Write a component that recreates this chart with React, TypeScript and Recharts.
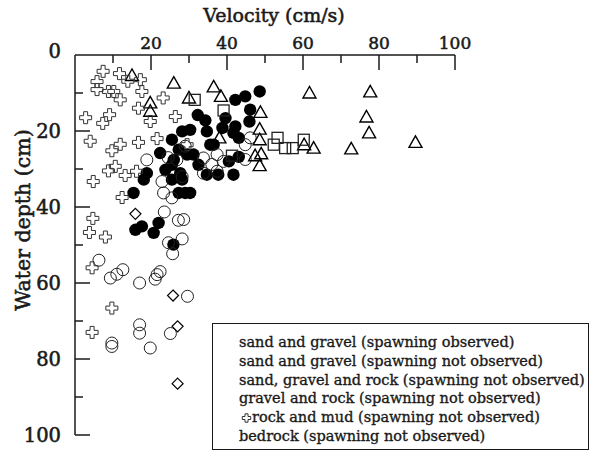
import React from 'react';
import { ScatterChart, Scatter, XAxis, YAxis, Legend } from 'recharts';

type P = [number, number]; // [velocity cm/s, water depth cm]

const velocityTicks = [0, 10, 20, 30, 40, 50, 60, 70, 80, 90, 100];
const depthTicks = [0, 10, 20, 30, 40, 50, 60, 70, 80, 90, 100];

const seriesNames = [
  'sand and gravel (spawning observed)',
  'sand and gravel (spawning not observed)',
  'sand, gravel and rock (spawning not observed)',
  'gravel and rock (spawning not observed)',
  'rock and mud (spawning not observed)',
  'bedrock (spawning not observed)',
];

const sandGravelObserved: P[] = [
  [48.6, 9.6], [44.8, 10.9], [42.2, 11.8], [46.1, 14.4], [39.6, 16.6], [32.3, 15.8],
  [34.3, 17.2], [42.2, 18.8], [45.9, 17.5], [34.7, 20.1], [38.8, 19.2], [43.1, 21.8],
  [41.7, 20.5], [30.3, 19.7], [35.6, 23.6], [31.2, 26.2], [43.1, 26.8], [32.5, 28.9],
  [34.7, 31.5], [41.7, 31.5], [30.3, 36.3], [28.2, 20.1], [25.5, 22.3], [36.5, 23.6],
  [22.4, 25.8], [27.3, 24.9], [29.5, 26.2], [18.9, 31.1], [23.8, 30.2], [27.7, 31.1],
  [37.7, 31.5], [15.4, 36.3], [18.1, 32.8], [25.5, 28.9], [28.2, 32.8], [25.5, 32.8],
  [29.0, 36.3], [27.3, 36.3], [15.9, 46.0], [17.6, 45.1], [20.7, 46.8], [22.0, 44.2],
  [25.9, 49.9], [40.5, 28.0], [26.0, 27.6],
];

const sandGravelNotObserved: P[] = [
  [33.8, 27.1], [37.4, 26.2], [44.8, 23.6], [46.1, 21.8], [37.4, 30.6], [39.1, 28.0],
  [44.8, 27.5], [18.9, 27.6], [26.8, 27.6], [33.8, 31.1], [36.0, 28.8], [22.9, 33.3],
  [23.3, 36.3], [25.5, 37.6], [23.5, 41.3], [27.2, 43.5], [28.6, 43.3], [24.6, 49.4],
  [28.2, 48.4], [25.7, 52.3], [6.3, 54.0], [12.6, 56.5], [11.0, 57.7], [21.1, 59.0],
  [22.4, 57.0], [21.6, 57.8], [28.2, 32.0], [9.3, 58.7], [17.0, 60.0], [29.6, 63.5],
  [17.0, 71.0], [17.0, 73.2], [25.1, 73.3], [9.7, 75.8], [9.7, 76.7], [19.8, 77.1],
  [29.0, 24.0], [24.5, 27.0],
];

const sandGravelRock: P[] = [
  [15.0, 5.4], [26.0, 7.4], [19.8, 12.6], [19.8, 14.8], [30.0, 11.3], [36.5, 8.4],
  [38.4, 10.9], [61.7, 10.0], [48.8, 15.1], [48.6, 19.5], [48.6, 22.3], [49.0, 26.0],
  [47.4, 26.5], [48.6, 29.1], [38.0, 21.8], [60.3, 23.6], [62.8, 24.5], [77.7, 9.7],
  [76.7, 16.3], [77.4, 20.5], [72.7, 24.7], [89.6, 23.0],
];

const gravelRock: P[] = [
  [31.5, 11.8], [39.1, 14.6], [53.3, 21.8], [52.3, 23.6], [55.3, 24.5], [57.3, 24.5],
  [60.2, 22.3], [41.3, 26.5],
];

const rockMud: P[] = [
  [7.4, 4.3], [11.7, 4.9], [5.8, 7.0], [5.8, 9.1], [8.8, 9.6], [10.2, 9.6], [11.9, 11.8],
  [13.9, 6.9], [17.2, 6.5], [17.6, 9.6], [23.2, 11.3], [2.8, 16.5], [7.3, 18.0], [9.1, 15.7],
  [16.7, 14.0], [19.8, 17.5], [26.4, 16.2], [21.6, 22.0], [4.0, 22.7], [11.9, 23.5],
  [16.7, 23.0], [9.7, 25.2], [10.6, 29.3], [8.8, 30.5], [13.2, 31.7], [4.8, 33.3],
  [16.2, 30.6], [12.4, 37.5], [29.5, 23.6], [4.7, 43.0], [3.8, 46.7], [8.0, 47.9],
  [4.5, 56.0], [9.7, 66.6], [4.5, 73.0],
];

const bedrock: P[] = [
  [15.9, 41.8], [25.8, 63.3], [27.0, 71.4], [27.0, 86.5],
];

const toRows = (pts: P[]) => pts.map(([v, d]) => ({ v, d }));

const FONT = '"DejaVu Serif", serif';
const INK = '#1a1a1a';
const W = 595;
const H = 458;
const MARGIN = { top: 25, right: 140, bottom: 23, left: 15 };
const X_AXIS_H = 30;
const Y_AXIS_W = 60;
const PLOT_TOP = MARGIN.top + X_AXIS_H;
const PLOT_LEFT = MARGIN.left + Y_AXIS_W;

const textStyle = { fontFamily: FONT, fill: INK, stroke: INK, strokeWidth: 0.55 };

const XTick = (props: any) => {
  const { x, payload } = props;
  const val = payload.value as number;
  const major = val % 20 === 0;
  return (
    <g>
      {val !== 0 && (
        <line x1={x} x2={x} y1={PLOT_TOP} y2={PLOT_TOP + (major ? 15 : 8)} stroke={INK} strokeWidth={1.5} />
      )}
      {major && val !== 0 && (
        <text x={x} y={PLOT_TOP - 6} textAnchor="middle" fontSize={17} {...textStyle}>
          {val}
        </text>
      )}
    </g>
  );
};

const YTick = (props: any) => {
  const { y, payload } = props;
  const val = payload.value as number;
  const major = val % 20 === 0;
  return (
    <g>
      {val !== 0 && (
        <line x1={PLOT_LEFT} x2={PLOT_LEFT + (major ? 15 : 8)} y1={y} y2={y} stroke={INK} strokeWidth={1.5} />
      )}
      {major && (
        <text x={PLOT_LEFT - 14} y={y + 7 - (val === 0 ? 4.5 : 0)} textAnchor="end" fontSize={19.5} {...textStyle}>
          {val}
        </text>
      )}
    </g>
  );
};

const XTitle = (props: any) => {
  const vb = props.viewBox || {};
  return (
    <text x={vb.x + vb.width / 2 + 9} y={vb.y - 3} textAnchor="middle" fontSize={19} {...textStyle}>
      Velocity (cm/s)
    </text>
  );
};

const YTitle = (props: any) => {
  const vb = props.viewBox || {};
  const cx = vb.x + 15;
  const cy = vb.y + vb.height / 2 - 25;
  return (
    <text x={cx} y={cy} transform={`rotate(-90, ${cx}, ${cy})`} textAnchor="middle" fontSize={20.5} {...textStyle}>
      Water depth (cm)
    </text>
  );
};

const FilledDot = (p: any) => <circle cx={p.cx} cy={p.cy} r={6.2} fill="#000" />;
const OpenDot = (p: any) => <circle cx={p.cx} cy={p.cy} r={6} fill="none" stroke="#222" strokeWidth={1} />;
const Triangle = (p: any) => (
  <polygon
    points={`${p.cx},${p.cy - 6.5} ${p.cx - 6.5},${p.cy + 5} ${p.cx + 6.5},${p.cy + 5}`}
    fill="none" stroke="#000" strokeWidth={1.4}
  />
);
const Square = (p: any) => (
  <rect x={p.cx - 5.5} y={p.cy - 5.5} width={11} height={11} fill="none" stroke="#222" strokeWidth={1.3} />
);
const crossPath = (cx: number, cy: number, s: number, a: number) =>
  `M${cx - a},${cy - s} L${cx + a},${cy - s} L${cx + a},${cy - a} L${cx + s},${cy - a} L${cx + s},${cy + a} L${cx + a},${cy + a} L${cx + a},${cy + s} L${cx - a},${cy + s} L${cx - a},${cy + a} L${cx - s},${cy + a} L${cx - s},${cy - a} L${cx - a},${cy - a} Z`;
const Cross = (p: any) => <path d={crossPath(p.cx, p.cy, 6, 2)} fill="none" stroke="#333" strokeWidth={1} />;
const Diamond = (p: any) => (
  <polygon
    points={`${p.cx},${p.cy - 5.5} ${p.cx + 5.5},${p.cy} ${p.cx},${p.cy + 5.5} ${p.cx - 5.5},${p.cy}`}
    fill="none" stroke="#000" strokeWidth={1.2}
  />
);

const LegendBox = (props: any) => {
  const payload = [...(props.payload || [])].sort(
    (a: any, b: any) => seriesNames.indexOf(a.value) - seriesNames.indexOf(b.value),
  );
  return (
    <div
      style={{
        boxSizing: 'border-box', width: 377, height: 127, border: `1.5px solid ${INK}`,
        padding: '9px 0 0 26px', fontFamily: FONT, fontSize: 14.5, lineHeight: '18.8px', color: INK,
        textAlign: 'left', WebkitTextStroke: '0.35px ' + INK,
      }}
    >
      {payload.map((e: any) => {
        const withIcon = e.value === seriesNames[4];
        return (
          <div key={e.value} style={{ display: 'flex', alignItems: 'center', whiteSpace: 'nowrap', height: 18.8 }}>
            {withIcon && (
              <svg width={13} height={12} style={{ flex: 'none' }}>
                <path d={crossPath(7.5, 6, 4.2, 1.5)} fill="none" stroke="#333" strokeWidth={1} />
              </svg>
            )}
            <span>{e.value}</span>
          </div>
        );
      })}
    </div>
  );
};

export default function App() {
  return (
    <div style={{ position: 'absolute', left: 0, top: 0, background: '#fff' }}>
      <ScatterChart width={W} height={H} margin={MARGIN}>
        <XAxis
          type="number" dataKey="v" orientation="top" domain={[0, 100]} ticks={velocityTicks} interval={0}
          height={X_AXIS_H} axisLine={{ stroke: INK, strokeWidth: 1.5 }} tickLine={false} tick={XTick}
          label={XTitle}
        />
        <YAxis
          type="number" dataKey="d" reversed domain={[0, 100]} ticks={depthTicks} interval={0}
          width={Y_AXIS_W} axisLine={{ stroke: INK, strokeWidth: 1.5 }} tickLine={false} tick={YTick}
          label={YTitle}
        />
        <Legend
          layout="horizontal" verticalAlign="middle" align="center" content={LegendBox} itemSorter={null as any}
          wrapperStyle={{ position: 'absolute', left: 212, top: 323, width: 377, height: 127 }}
        />
        <Scatter name={seriesNames[0]} data={toRows(sandGravelObserved)} shape={FilledDot} isAnimationActive={false} />
        <Scatter name={seriesNames[1]} data={toRows(sandGravelNotObserved)} shape={OpenDot} isAnimationActive={false} />
        <Scatter name={seriesNames[2]} data={toRows(sandGravelRock)} shape={Triangle} isAnimationActive={false} />
        <Scatter name={seriesNames[3]} data={toRows(gravelRock)} shape={Square} isAnimationActive={false} />
        <Scatter name={seriesNames[4]} data={toRows(rockMud)} shape={Cross} isAnimationActive={false} />
        <Scatter name={seriesNames[5]} data={toRows(bedrock)} shape={Diamond} isAnimationActive={false} />
      </ScatterChart>
    </div>
  );
}
